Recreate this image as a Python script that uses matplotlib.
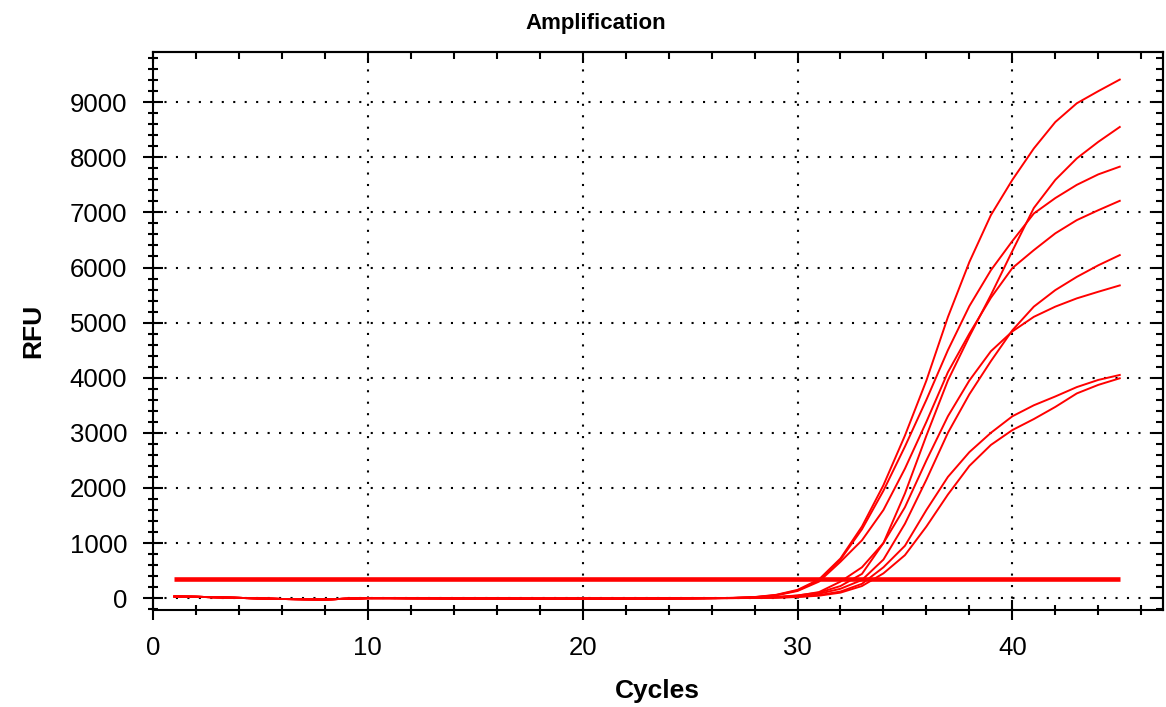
import matplotlib
matplotlib.use("Agg")
import matplotlib.pyplot as plt
from matplotlib.ticker import MultipleLocator

plt.rcParams['font.family'] = ['Liberation Sans', 'DejaVu Sans']

# cycle numbers
cycles = list(range(1, 46))

# flat part shared by all wells, cycles 1-26
baseline = [30, 25, 15, 5, -5, -15, -20, -25, -10, 0, 0, -2, -3, -5, -5,
            -5, -8, -8, -8, -8, -8, -8, -6, -5, -3, 0]

# cycles 27-45 for each well
well_a = [5, 20, 60, 150, 340, 720, 1300, 2050, 2950, 3950, 5100, 6100, 6950,
          7590, 8160, 8640, 8980, 9200, 9410]
well_b = [2, 8, 20, 50, 100, 220, 440, 1000, 1900, 2950, 3950, 4750, 5500,
          6300, 7080, 7590, 7980, 8280, 8550]
well_c = [5, 18, 55, 140, 320, 700, 1250, 1950, 2750, 3600, 4500, 5300, 5950,
          6480, 6980, 7260, 7500, 7690, 7830]
well_d = [4, 15, 50, 130, 300, 660, 1050, 1600, 2350, 3200, 4100, 4800, 5450,
          5990, 6315, 6620, 6860, 7040, 7210]
well_e = [2, 6, 15, 35, 80, 170, 330, 700, 1350, 2150, 3000, 3700, 4300,
          4860, 5290, 5590, 5830, 6040, 6225]
well_f = [3, 8, 20, 45, 110, 300, 560, 1000, 1650, 2500, 3300, 3950, 4480,
          4840, 5105, 5290, 5440, 5560, 5675]
well_g = [1, 4, 10, 25, 55, 120, 260, 560, 950, 1600, 2200, 2650, 3000,
          3300, 3500, 3660, 3830, 3960, 4050]
well_h = [1, 3, 8, 20, 45, 100, 220, 450, 780, 1300, 1880, 2400, 2780,
          3050, 3250, 3470, 3715, 3870, 3990]

threshold = 340

wells = [well_a, well_b, well_c, well_d, well_e, well_f, well_g, well_h]

fig = plt.figure(figsize=(11.66, 7.07), dpi=100)
ax = fig.add_axes([0.1312, 0.1372, 0.866, 0.7892])

for w in wells:
    ax.plot(cycles, baseline + w, color='#ff0000', lw=1.4, solid_joinstyle='round')

ax.plot([cycles[0], cycles[-1]], [threshold, threshold], color='#ff0000', lw=3.3,
        solid_capstyle='butt')

ax.set_xlim(0, 47)
ax.set_ylim(-215, 9910)
ax.xaxis.set_major_locator(MultipleLocator(10))
ax.xaxis.set_minor_locator(MultipleLocator(2))
ax.yaxis.set_major_locator(MultipleLocator(1000))
ax.yaxis.set_minor_locator(MultipleLocator(200))

ax.grid(True, which='major', color='black', linestyle=(0, (1, 4.5)), lw=1.5)

for s in ax.spines.values():
    s.set_linewidth(1.5)

ax.tick_params(which='both', direction='inout', width=1.5, labelsize=18.5, pad=11)
ax.tick_params(which='major', length=15)
ax.tick_params(which='minor', length=7.5)

# top and right: inward ticks only, no labels
top = ax.secondary_xaxis('top')
top.xaxis.set_major_locator(MultipleLocator(10))
top.xaxis.set_minor_locator(MultipleLocator(2))
top.tick_params(which='both', direction='in', width=1.5, labeltop=False)
top.tick_params(which='major', length=8)
top.tick_params(which='minor', length=5)

right = ax.secondary_yaxis('right')
right.yaxis.set_major_locator(MultipleLocator(1000))
right.yaxis.set_minor_locator(MultipleLocator(200))
right.tick_params(which='both', direction='in', width=1.5, labelright=False)
right.tick_params(which='major', length=8)
right.tick_params(which='minor', length=5)
for sec in (top, right):
    for s in sec.spines.values():
        s.set_linewidth(1.5)

ax.set_xlabel('Cycles', fontsize=19, fontweight='bold', labelpad=14)
ax.set_ylabel('RFU', fontsize=19, fontweight='bold', labelpad=18)
fig.text(596 / 1166, 1 - 24 / 707, 'Amplification', fontsize=16,
         fontweight='bold', ha='center', va='center')

fig.savefig('out.png', dpi=100)
